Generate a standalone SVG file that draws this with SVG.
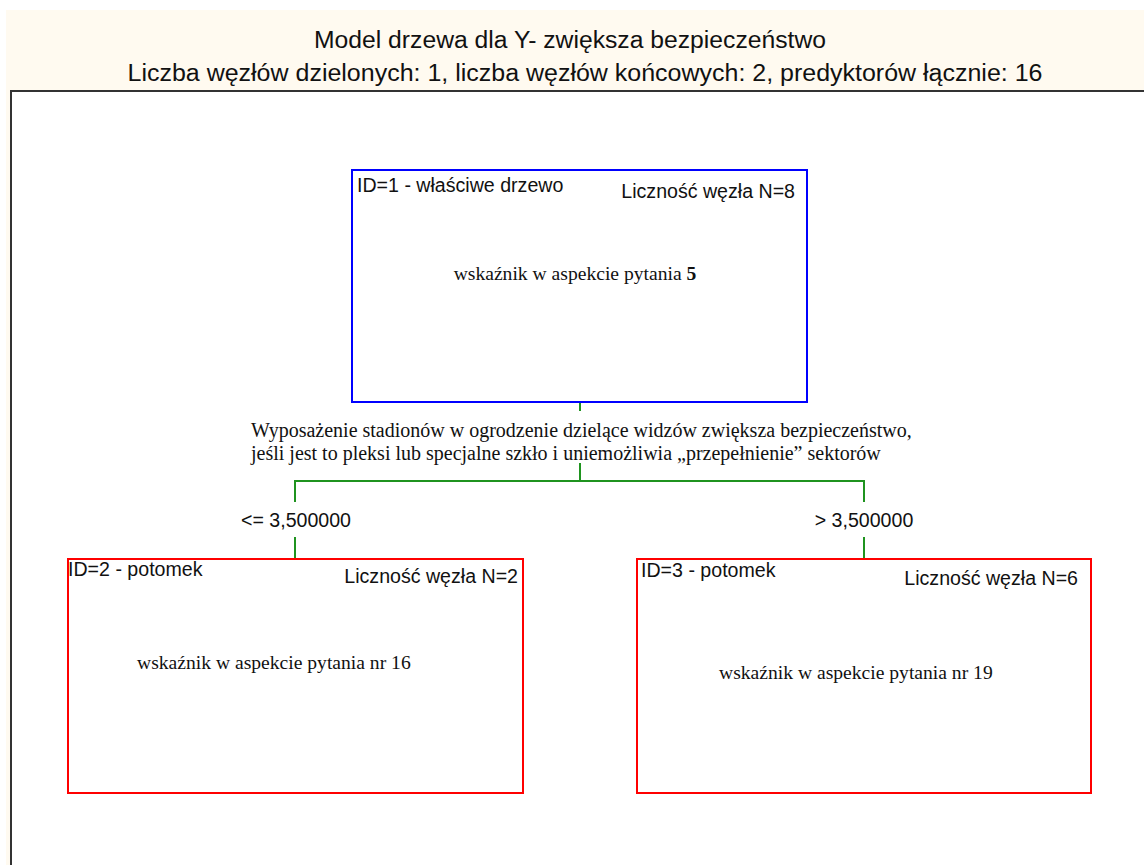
<svg xmlns="http://www.w3.org/2000/svg" width="1144" height="865" viewBox="0 0 1144 865">
<style>
.sans{font-family:"Liberation Sans",Arial,sans-serif;fill:#111;}
.serif{font-family:"Liberation Serif","Times New Roman",serif;fill:#111;}
.title{font-size:23px;text-anchor:middle;}
.hdr{font-size:19.6px;}
.body{font-size:19.6px;}
.split{font-size:20px;}
.conn{stroke:#1f931f;stroke-width:2;fill:none;}
.root{fill:#fff;stroke:#0000ff;stroke-width:2;}
.leaf{fill:#fff;stroke:#ff0000;stroke-width:2;}
</style>
<rect x="0" y="0" width="1144" height="865" fill="#fff"/>
<rect x="6" y="10" width="1138" height="855" fill="#fffaf0"/>
<rect x="11" y="91" width="1140" height="780" fill="#fff" stroke="#333" stroke-width="2"/>
<g id="title">
<text class="sans title" x="570" y="48" textLength="512" lengthAdjust="spacingAndGlyphs">Model drzewa dla Y- zwiększa bezpieczeństwo</text>
<text class="sans title" x="585" y="81" textLength="915" lengthAdjust="spacingAndGlyphs">Liczba węzłów dzielonych: 1, liczba węzłów końcowych: 2, predyktorów łącznie: 16</text>
</g>
<g id="connectors">
<path class="conn" d="M580 402V411"/>
<path class="conn" d="M580 463V481M295 502V481H864V502"/>
<path class="conn" d="M295 537V559M864 537V559"/>
<text class="serif split" x="251" y="437">Wyposażenie stadionów w ogrodzenie dzielące widzów zwiększa bezpieczeństwo,</text>
<text class="serif split" x="251" y="460">jeśli jest to pleksi lub specjalne szkło i uniemożliwia „przepełnienie” sektorów</text>
<text class="sans hdr" x="296" y="527" text-anchor="middle">&lt;= 3,500000</text>
<text class="sans hdr" x="864" y="527" text-anchor="middle">&gt; 3,500000</text>
</g>
<g id="node1">
<rect class="root" x="352" y="170" width="455" height="232"/>
<text class="sans hdr" x="357" y="192">ID=1 - właściwe drzewo</text>
<text class="sans hdr" x="795" y="198" text-anchor="end">Liczność węzła N=8</text>
<text class="serif body" x="575" y="280" text-anchor="middle">wskaźnik w aspekcie pytania <tspan font-weight="bold">5</tspan></text>
</g>
<g id="node2">
<rect class="leaf" x="68" y="559" width="455" height="234"/>
<text class="sans hdr" x="68" y="576">ID=2 - potomek</text>
<text class="sans hdr" x="518" y="583" text-anchor="end">Liczność węzła N=2</text>
<text class="serif body" x="137" y="669">wskaźnik w aspekcie pytania nr 16</text>
</g>
<g id="node3">
<rect class="leaf" x="637" y="559" width="454" height="234"/>
<text class="sans hdr" x="641" y="577">ID=3 - potomek</text>
<text class="sans hdr" x="1078" y="585" text-anchor="end">Liczność węzła N=6</text>
<text class="serif body" x="719" y="679">wskaźnik w aspekcie pytania nr 19</text>
</g>
</svg>
